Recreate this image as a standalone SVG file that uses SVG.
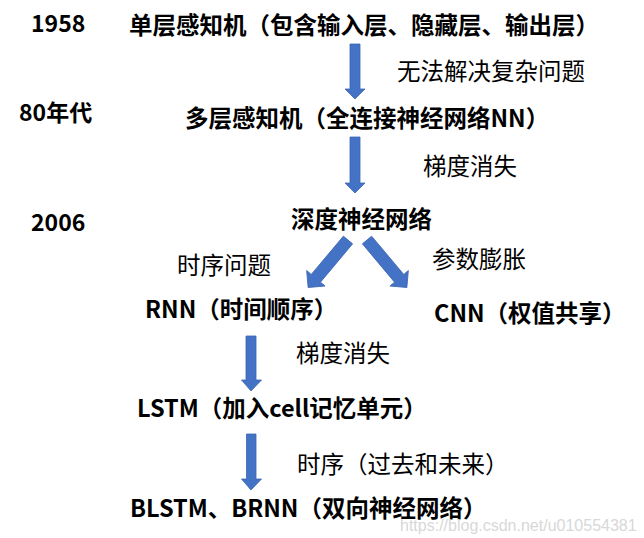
<svg xmlns="http://www.w3.org/2000/svg" width="644" height="538" viewBox="0 0 644 538">
<defs>
<style>
.m{font-family:"Noto Sans CJK SC","Liberation Sans",sans-serif;font-size:23.5px;font-weight:bold;fill:#000}
.s{font-family:"Noto Sans CJK SC","Liberation Sans",sans-serif;font-size:23.5px;font-weight:normal;fill:#000}
.y{font-family:"Noto Sans CJK SC","Liberation Sans",sans-serif;font-size:23px;font-weight:bold;fill:#000}
.a{fill:#4472C4;stroke:#3B66B5;stroke-width:0.8}
.w{font-family:"Liberation Sans",Arial,sans-serif;font-size:16px;fill:#d8d8d8}
</style>
</defs>
<rect width="644" height="538" fill="#fff"/>
<g id="years">
<text class="y" x="31" y="32">1958</text>
<text class="y" x="19" y="121">80年代</text>
<text class="y" x="31" y="231">2006</text>
</g>
<g id="n1"><text class="m" x="129" y="34">单层感知机（包含输入层、隐藏层、输出层）</text></g>
<g id="n2"><text class="m" x="185" y="127">多层感知机（全连接神经网络NN）</text></g>
<g id="n3"><text class="m" x="291" y="228">深度神经网络</text></g>
<g id="n4"><text class="m" x="145" y="318">RNN（时间顺序）</text></g>
<g id="n5"><text class="m" x="434" y="322">CNN（权值共享）</text></g>
<g id="n6"><text class="m" x="137" y="417">LSTM（加入cell记忆单元）</text></g>
<g id="n7"><text class="m" x="130" y="517">BLSTM、BRNN（双向神经网络）</text></g>
<g id="connectors">
<polygon class="a" points="350,44 360,44 360,89 365,89 355,99 345,89 350,89"/>
<polygon class="a" points="350,137 360,137 360,183 365,183 355,193 345,183 350,183"/>
<polygon class="a" points="246,336 256,336 256,380 261.5,380 251,391 241.5,380 246,380"/>
<polygon class="a" points="246.5,434 256,434 256,479 261.5,479 251,490 241.5,479 246.5,479"/>
<polygon class="a" transform="translate(348,240) rotate(40)" points="-6,0 6,0 6,50 12,50 0,62 -12,50 -6,50"/>
<polygon class="a" transform="translate(367,240) rotate(-40)" points="-6,0 6,0 6,50 12,50 0,62 -12,50 -6,50"/>
<text class="s" x="397" y="80">无法解决复杂问题</text>
<text class="s" x="423" y="175">梯度消失</text>
<text class="s" x="177" y="274">时序问题</text>
<text class="s" x="432" y="268">参数膨胀</text>
<text class="s" x="296" y="362">梯度消失</text>
<text class="s" x="297" y="473">时序（过去和未来）</text>
</g>
<text class="w" x="400" y="531">https://blog.csdn.net/u010554381</text>
</svg>
